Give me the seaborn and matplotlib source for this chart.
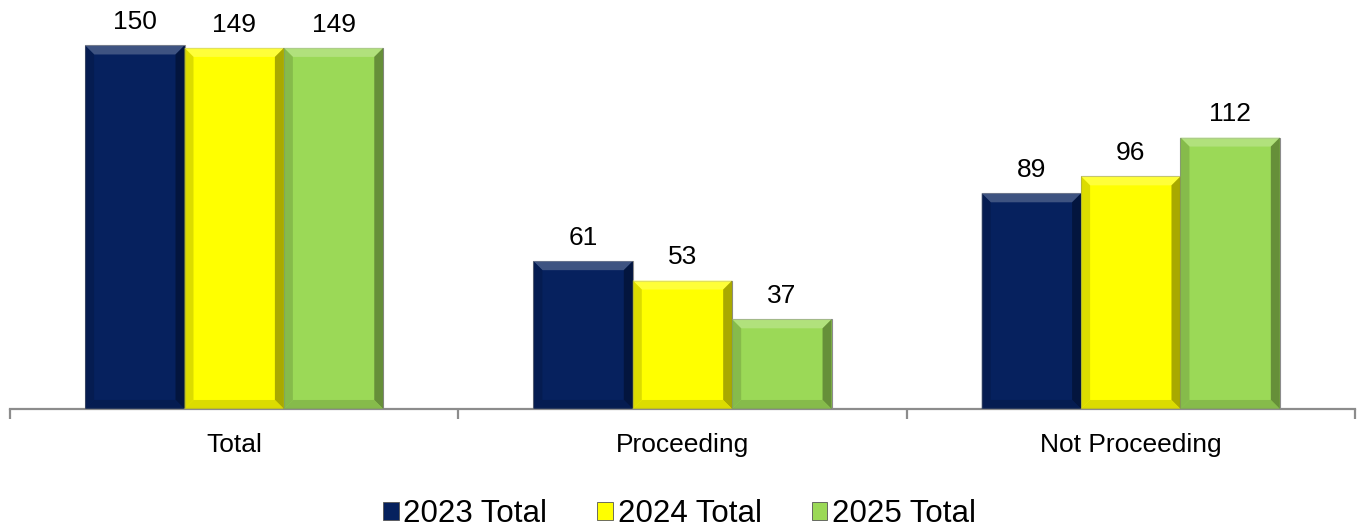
import pandas as pd
import matplotlib.pyplot as plt
import matplotlib.colors as mcolors
from matplotlib.patches import Polygon
import seaborn as sns

categories = ['Total', 'Proceeding', 'Not Proceeding']
series = ['2023 Total', '2024 Total', '2025 Total']
values_2023 = [150, 61, 89]
values_2024 = [149, 53, 96]
values_2025 = [149, 37, 112]
colores = ['#06215E', '#FFFF00', '#9BD957']


def armar_tabla():
    filas = []
    for serie, vals in zip(series, [values_2023, values_2024, values_2025]):
        for cat, v in zip(categories, vals):
            filas.append({'categoria': cat, 'serie': serie, 'valor': v})
    return pd.DataFrame(filas)


def biselar(ax, bar, color):
    # efecto biselado simple sobre cada barra
    x0, y0 = bar.get_x(), bar.get_y()
    w, h = bar.get_width(), bar.get_height()
    trans = ax.transData
    inv = trans.inverted()
    (px0, py0), (px1, py1) = trans.transform([(x0, y0), (x0 + w, y0 + h)])
    d = 9
    base = mcolors.to_rgb(color)
    claro = [c + (1 - c) * 0.3 for c in base]
    oscuro = [c * 0.55 for c in base]
    medio = [c * 0.82 for c in base]
    caras = [
        ([(px0, py1), (px1, py1), (px1 - d, py1 - d), (px0 + d, py1 - d)], claro),
        ([(px1, py1), (px1, py0), (px1 - d, py0 + d), (px1 - d, py1 - d)], oscuro),
        ([(px0, py0), (px1, py0), (px1 - d, py0 + d), (px0 + d, py0 + d)], medio),
        ([(px0, py0), (px0, py1), (px0 + d, py1 - d), (px0 + d, py0 + d)], medio),
    ]
    for pts, c in caras:
        ax.add_patch(Polygon(inv.transform(pts), closed=True, facecolor=c,
                             edgecolor='none', zorder=3, alpha=0.75))


df = armar_tabla()

fig = plt.figure(figsize=(13.59, 5.31), dpi=100)
ax = fig.add_axes([0.0074, 0.2298, 0.9896, 0.7302])
plt.rcParams['font.family'] = ['Liberation Sans', 'DejaVu Sans']

sns.barplot(data=df, x='categoria', y='valor', hue='serie', palette=colores,
            width=0.665, gap=0, saturation=1, edgecolor='#8c8c8c', linewidth=0.8,
            ax=ax, legend=False, zorder=2)

ax.set_xlim(-0.5, 2.5)
ax.set_ylim(0, 160)
fig.canvas.draw()

for cont, color in zip(ax.containers, colores):
    for bar in cont:
        biselar(ax, bar, color)
    ax.bar_label(cont, labels=[str(int(b.get_height())) for b in cont],
                 padding=8, fontsize=19, family=['Liberation Sans', 'DejaVu Sans'])

for s in ['top', 'right', 'left']:
    ax.spines[s].set_visible(False)
ax.spines['bottom'].set_color('#8c8c8c')
ax.spines['bottom'].set_linewidth(1.6)
ax.set_yticks([])
ax.set_xticks([0, 1, 2])
ax.set_xticklabels(categories, fontsize=19, family=['Liberation Sans', 'DejaVu Sans'])
ax.tick_params(axis='x', which='major', length=0, pad=17)
ax.set_xticks([-0.5, 0.5, 1.5, 2.5], minor=True)
ax.tick_params(axis='x', which='minor', length=7, width=1.6, color='#8c8c8c')
ax.set_xlabel('')
ax.set_ylabel('')

handles = [plt.Rectangle((0, 0), 1, 1, facecolor=c, edgecolor='#555555', linewidth=0.6)
           for c in colores]
fig.legend(handles, series, loc='lower center', bbox_to_anchor=(0.5, -0.05), ncol=3,
           frameon=False, handlelength=0.5, handleheight=0.5,
           handletextpad=0.15, columnspacing=1.6, prop={'family': 'Liberation Sans', 'size': 22.5})

fig.savefig('out.png', dpi=100)
